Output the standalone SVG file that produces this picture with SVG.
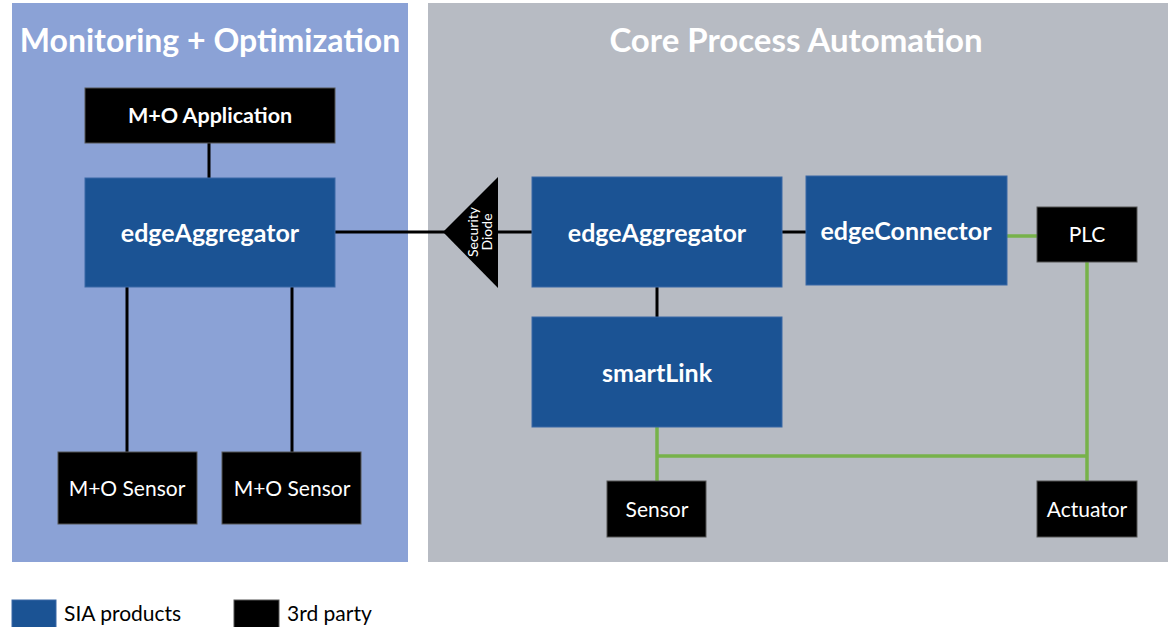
<svg xmlns="http://www.w3.org/2000/svg" width="1170" height="627" viewBox="0 0 1170 627">
<style>
.bg{fill:#ffffff}
.zone-mo{fill:#8BA2D6}
.zone-core{fill:#B7BBC3}
.title{font-family:Lato,"Open Sans","Liberation Sans",sans-serif;font-weight:bold;font-size:32px;fill:#ffffff;text-anchor:middle}
.sia{fill:#1B5394;stroke:#3A68A6;stroke-width:1}
.third{fill:#000000;stroke:#555555;stroke-width:1}
.lblB{font-family:Lato,"Open Sans","Liberation Sans",sans-serif;font-weight:bold;font-size:25px;fill:#ffffff;text-anchor:middle}
.lblApp{font-family:Lato,"Open Sans","Liberation Sans",sans-serif;font-weight:bold;font-size:21.5px;fill:#ffffff;text-anchor:middle}
.lbl{font-family:Lato,"Open Sans","Liberation Sans",sans-serif;font-size:21px;fill:#ffffff;text-anchor:middle}
.diode{font-family:Lato,"Open Sans","Liberation Sans",sans-serif;font-size:14px;fill:#ffffff;text-anchor:middle}
.leg{font-family:Lato,"Open Sans","Liberation Sans",sans-serif;font-size:21px;fill:#000000}
.cb{stroke:#000000;stroke-width:3;fill:none}
.cg{stroke:#77B24A;stroke-width:3.5;fill:none}
</style>
<rect class="bg" x="0" y="0" width="1170" height="627"/>
<g id="zone-monitoring">
<rect class="zone-mo" x="12" y="3" width="396" height="559"/>
<text class="title" x="210" y="52">Monitoring + Optimization</text>
</g>
<g id="zone-core">
<rect class="zone-core" x="428" y="3" width="740" height="559"/>
<text class="title" x="796" y="52" style="font-size:33px">Core Process Automation</text>
</g>
<g id="connectors">
<line class="cb" x1="209" y1="143" x2="209" y2="178"/>
<line class="cb" x1="335" y1="232" x2="445" y2="232"/>
<line class="cb" x1="127" y1="287" x2="127" y2="452"/>
<line class="cb" x1="292" y1="287" x2="292" y2="452"/>
<line class="cb" x1="497" y1="232" x2="532" y2="232"/>
<line class="cb" x1="782" y1="232" x2="806" y2="232"/>
<line class="cb" x1="657" y1="287" x2="657" y2="318"/>
<line class="cg" x1="1007" y1="236" x2="1037" y2="236"/>
<line class="cg" x1="1087" y1="262" x2="1087" y2="481"/>
<line class="cg" x1="657" y1="427" x2="657" y2="481"/>
<line class="cg" x1="657" y1="456" x2="1087" y2="456"/>
</g>
<g id="mo-application">
<rect class="third" x="85" y="88" width="250" height="55"/>
<text class="lblApp" x="210" y="123">M+O Application</text>
</g>
<g id="edge-aggregator-mo">
<rect class="sia" x="85" y="178" width="250" height="109"/>
<text class="lblB" x="210" y="242">edgeAggregator</text>
</g>
<g id="mo-sensor-1">
<rect class="third" x="58" y="452" width="139" height="72"/>
<text class="lbl" x="127" y="496">M+O Sensor</text>
</g>
<g id="mo-sensor-2">
<rect class="third" x="222" y="452" width="139" height="72"/>
<text class="lbl" x="292" y="496">M+O Sensor</text>
</g>
<g id="security-diode">
<polygon points="443,232 498,177 498,288" fill="#000000"/>
<text class="diode" transform="translate(478,232) rotate(-90)">Security</text>
<text class="diode" transform="translate(492,232) rotate(-90)">Diode</text>
</g>
<g id="edge-aggregator-core">
<rect class="sia" x="532" y="177" width="250" height="110"/>
<text class="lblB" x="657" y="242">edgeAggregator</text>
</g>
<g id="edge-connector">
<rect class="sia" x="806" y="176" width="201" height="109"/>
<text class="lblB" x="906" y="240">edgeConnector</text>
</g>
<g id="plc">
<rect class="third" x="1037" y="207" width="100" height="55"/>
<text class="lbl" x="1087" y="242">PLC</text>
</g>
<g id="smartlink">
<rect class="sia" x="532" y="317" width="250" height="110"/>
<text class="lblB" x="657" y="382">smartLink</text>
</g>
<g id="sensor">
<rect class="third" x="607" y="481" width="99" height="56"/>
<text class="lbl" x="657" y="517">Sensor</text>
</g>
<g id="actuator">
<rect class="third" x="1037" y="481" width="100" height="56"/>
<text class="lbl" x="1087" y="517">Actuator</text>
</g>
<g id="legend">
<rect class="sia" x="12" y="600" width="44" height="30" stroke="none"/>
<text class="leg" x="64" y="621">SIA products</text>
<rect class="third" x="234" y="600" width="45" height="30" stroke="none"/>
<text class="leg" x="287" y="621">3rd party</text>
</g>
</svg>
